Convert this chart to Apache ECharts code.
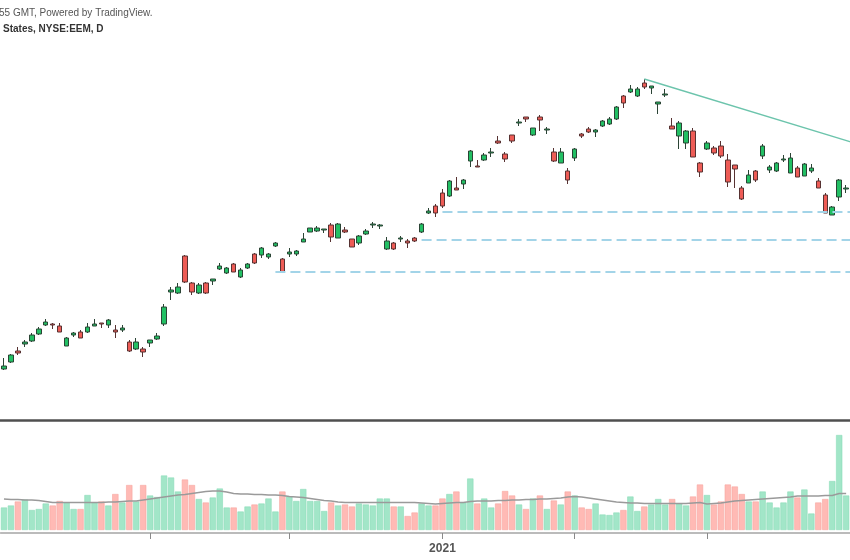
<!DOCTYPE html>
<html>
<head>
<meta charset="utf-8">
<script src="https://cdn.jsdelivr.net/npm/echarts@6/dist/echarts.min.js"></script>
<style>html,body{margin:0;padding:0;background:#fff;overflow:hidden;width:850px;height:560px;}#c{width:857px;height:560px;}</style>
</head>
<body>
<div id="c"></div>
<script>
// Trading days (NYSE:EEM, daily), last entry is the next session (no data yet)
const tradingDates = ("2020-10-02 2020-10-05 2020-10-06 2020-10-07 2020-10-08 2020-10-09 2020-10-12 2020-10-13 2020-10-14 2020-10-15 2020-10-16 2020-10-19 2020-10-20 2020-10-21 2020-10-22 2020-10-23 2020-10-26 2020-10-27 2020-10-28 2020-10-29 2020-10-30 " +
  "2020-11-02 2020-11-03 2020-11-04 2020-11-05 2020-11-06 2020-11-09 2020-11-10 2020-11-11 2020-11-12 2020-11-13 2020-11-16 2020-11-17 2020-11-18 2020-11-19 2020-11-20 2020-11-23 2020-11-24 2020-11-25 2020-11-27 2020-11-30 " +
  "2020-12-01 2020-12-02 2020-12-03 2020-12-04 2020-12-07 2020-12-08 2020-12-09 2020-12-10 2020-12-11 2020-12-14 2020-12-15 2020-12-16 2020-12-17 2020-12-18 2020-12-21 2020-12-22 2020-12-23 2020-12-24 2020-12-28 2020-12-29 2020-12-30 2020-12-31 " +
  "2021-01-04 2021-01-05 2021-01-06 2021-01-07 2021-01-08 2021-01-11 2021-01-12 2021-01-13 2021-01-14 2021-01-15 2021-01-19 2021-01-20 2021-01-21 2021-01-22 2021-01-25 2021-01-26 2021-01-27 2021-01-28 2021-01-29 " +
  "2021-02-01 2021-02-02 2021-02-03 2021-02-04 2021-02-05 2021-02-08 2021-02-09 2021-02-10 2021-02-11 2021-02-12 2021-02-16 2021-02-17 2021-02-18 2021-02-19 2021-02-22 2021-02-23 2021-02-24 2021-02-25 2021-02-26 " +
  "2021-03-01 2021-03-02 2021-03-03 2021-03-04 2021-03-05 2021-03-08 2021-03-09 2021-03-10 2021-03-11 2021-03-12 2021-03-15 2021-03-16 2021-03-17 2021-03-18 2021-03-19 2021-03-22 2021-03-23 2021-03-24 2021-03-25 2021-03-26 2021-03-29 2021-03-30").split(' ');

const openPrices = [43.55,43.90,44.45,44.80,44.95,45.30,45.75,45.80,45.70,44.70,
  45.25,45.40,45.40,45.70,45.85,45.75,45.50,45.50,44.90,44.55,
  44.55,44.85,45.05,45.80,47.40,47.35,49.20,47.85,47.35,47.85,
  47.95,48.55,48.35,48.80,48.15,48.60,49.30,49.25,49.15,49.70,
  49.05,49.30,49.30,49.90,50.40,50.45,50.50,50.75,50.10,50.50,
  50.05,49.85,50.30,50.75,50.70,49.55,49.85,50.05,49.95,50.10,
  50.40,51.35,51.70,52.35,52.20,52.60,52.80,53.95,53.70,54.00,
  54.35,54.95,54.30,55.25,55.85,56.15,55.25,56.15,55.50,54.40,
  53.85,53.45,54.10,55.30,55.55,55.40,55.70,55.80,56.05,57.20,
  57.40,57.20,57.85,57.60,56.80,57.25,55.70,55.20,54.85,55.45,
  53.85,54.55,54.60,54.70,54.00,53.75,52.60,52.85,53.45,54.20,
  53.50,53.45,54.00,53.35,53.60,53.20,53.45,52.95,52.25,51.25,
  52.15,52.55];
const closePrices = [43.70,44.25,44.35,44.90,45.25,45.55,45.90,45.75,45.40,45.10,
  45.35,45.10,45.65,45.80,45.80,46.00,45.40,45.60,44.45,44.90,
  44.40,45.00,45.20,46.65,47.50,47.65,47.90,47.40,47.75,47.35,
  48.05,48.70,48.60,48.40,48.50,48.80,48.85,49.60,49.30,49.85,
  48.40,49.40,49.45,50.05,50.60,50.60,50.55,50.15,50.80,50.40,
  49.65,50.20,50.45,50.80,50.75,49.95,49.55,50.10,49.85,49.95,
  50.80,51.45,51.35,51.70,52.95,52.50,53.00,54.45,53.65,54.25,
  54.40,54.85,54.05,54.95,55.90,56.05,55.60,56.00,55.55,53.95,
  54.40,53.00,54.55,55.20,55.40,55.50,55.95,56.05,56.65,56.85,
  57.55,57.55,57.65,57.70,56.90,57.30,55.55,55.85,55.45,54.15,
  53.40,54.85,54.35,54.20,52.90,53.55,52.05,53.25,53.00,54.70,
  53.65,53.85,54.05,54.10,53.15,53.80,53.60,52.60,51.35,51.65,
  53.00,52.60];
const lowPrices = [43.50,43.85,44.25,44.65,44.90,45.25,45.70,45.55,45.40,44.70,
  45.15,45.10,45.35,45.70,45.60,45.60,45.10,45.40,44.40,44.50,
  44.15,44.65,45.00,45.70,47.00,47.30,47.85,47.25,47.30,47.30,
  47.75,48.50,48.30,48.40,48.10,48.55,48.80,49.10,49.05,49.65,
  48.40,49.15,49.20,49.90,50.40,50.40,50.35,49.90,50.10,50.35,
  49.65,49.75,50.25,50.60,50.55,49.50,49.50,49.90,49.60,49.90,
  50.35,51.30,51.15,51.60,52.15,52.50,52.55,53.65,53.65,53.95,
  54.15,54.80,53.90,54.85,55.70,55.90,55.20,55.45,55.30,53.90,
  53.85,52.80,53.95,55.10,55.35,55.15,55.65,55.75,56.00,56.60,
  57.35,57.15,57.55,57.30,56.30,57.15,55.55,54.55,54.55,54.15,
  53.15,54.50,54.25,54.10,52.65,52.60,52.00,52.85,52.90,54.05,
  53.35,53.40,53.90,53.35,53.15,53.20,53.35,52.60,51.35,51.25,
  51.95,52.35];
const highPrices = [44.10,44.30,44.65,45.00,45.35,45.65,46.05,45.85,45.85,45.15,
  45.40,45.50,45.85,46.05,45.85,46.05,45.75,45.75,45.00,45.10,
  44.65,45.00,45.35,46.80,47.65,47.85,49.25,47.90,47.85,47.90,
  48.05,48.85,48.65,48.85,48.60,48.85,49.35,49.65,49.35,49.90,
  49.10,49.60,49.50,50.35,50.60,50.70,50.55,50.85,50.85,50.65,
  50.05,50.25,50.55,50.90,50.80,50.15,49.90,50.20,50.05,50.15,
  50.85,51.60,51.80,52.55,53.00,53.15,53.05,54.50,54.00,54.35,
  54.60,55.20,54.40,55.25,56.05,56.15,55.60,56.25,55.65,54.60,
  54.60,53.60,54.60,55.35,55.65,55.55,56.00,56.15,56.70,57.25,
  57.75,57.65,58.05,57.70,56.90,57.55,56.10,55.95,55.50,55.60,
  53.90,54.95,54.70,54.95,54.30,53.75,52.70,53.50,53.50,54.80,
  53.75,53.90,54.25,54.35,53.70,53.85,53.80,53.10,52.35,51.70,
  53.05,52.75];

// Volume, millions of shares
const volumes = [45,49,57,61,40,42,53,49,58,55,
  42,42,70,55,57,49,72,55,90,57,
  90,69,66,109,105,77,101,90,62,55,
  65,83,45,45,37,47,51,53,63,37,
  77,67,58,82,58,58,38,55,49,51,
  47,53,51,49,63,63,47,47,28,35,
  53,49,49,63,72,77,55,103,53,63,
  45,53,78,69,51,42,63,69,42,59,
  51,77,69,45,42,53,31,30,35,40,
  67,38,47,51,62,51,62,53,49,67,
  91,70,51,57,91,87,72,57,57,77,
  55,45,55,77,65,81,33,55,62,98,
  190,69];
// Volume moving average (as drawn)
const volumeMA = [62,61,61,60,60,59,57,55,55,55,
  55,55,55,55,55,56,56,57,58,58,
  60,62,64,66,68,70,71,73,75,77,
  78,78,76,73,72,72,71,71,70,70,
  69,67,66,65,63,61,59,58,56,55,
  55,55,55,55,55,55,55,55,55,55,
  54,53,52,53,54,55,55,57,58,58,
  58,59,59,60,60,61,61,62,62,63,
  64,66,67,66,64,62,60,58,56,55,
  54,54,53,53,53,53,53,53,53,54,
  55,52,53,54,56,58,59,60,61,62,
  63,64,65,66,68,68,68,68,69,69,
  73,73];

// Drawn levels
const trendLine = [[92, 58.05], [122, 54.87]];
const supportLevels = [{ start: 63, price: 51.43 }, { start: 60, price: 50.00 }, { start: 39, price: 48.43 }];

const upColor = '#22c064', downColor = '#ee5c56';
const volUp = '#a2e6c8', volDown = '#ffbab5';
const font = '"Liberation Sans", Arial, sans-serif';

const candleData = openPrices.map((o, i) => [o, closePrices[i], lowPrices[i], highPrices[i]]);
const volData = volumes.map((v, i) => {
  const up = closePrices[i] >= openPrices[i];
  return { value: v, itemStyle: { color: up ? volUp : volDown, borderColor: up ? '#8cdcb9' : '#f7a6a0', borderWidth: 0.6 } };
});
const monthStarts = new Set();
tradingDates.forEach((d, i) => { if (i > 0 && d.slice(5, 7) !== tradingDates[i - 1].slice(5, 7) && i < closePrices.length) monthStarts.add(i); });

const markData = [
  [{ coord: trendLine[0], lineStyle: { color: '#6cc4ac', width: 1.4, type: 'solid' } }, { coord: trendLine[1] }]
].concat(supportLevels.map(s => [
  { coord: [s.start, s.price], lineStyle: { color: '#a3d4e8', width: 2, type: [10, 5] } },
  { coord: [tradingDates.length - 1, s.price] }
]));

const gridLeft = 0.5, gridWidth = 6.96 * tradingDates.length;

const chart = echarts.init(document.getElementById('c'));
chart.setOption({
  animation: false,
  backgroundColor: '#ffffff',
  graphic: [
    { type: 'text', left: -1, top: 8, style: { text: '55 GMT, Powered by TradingView.', font: '10px ' + font, fill: '#555' } },
    { type: 'text', left: 3, top: 24, style: { text: 'States, NYSE:EEM, D', font: 'bold 10px ' + font, fill: '#333' } }
  ],
  grid: [
    { left: gridLeft, width: gridWidth, top: 0, height: 420 },
    { left: gridLeft, width: gridWidth, top: 422, height: 108 }
  ],
  xAxis: [
    { type: 'category', gridIndex: 0, data: tradingDates, boundaryGap: true,
      axisLine: { show: true, onZero: false, lineStyle: { color: '#4f4f4f', width: 2.5 } },
      axisTick: { show: false }, axisLabel: { show: false }, splitLine: { show: false } },
    { type: 'category', gridIndex: 1, data: tradingDates, boundaryGap: true, offset: 3,
      axisLine: { show: true, onZero: false, lineStyle: { color: '#a5a5a5', width: 1.5 } },
      axisTick: { show: true, alignWithLabel: true, interval: (i) => monthStarts.has(i), length: 6, lineStyle: { color: '#8a8a8a' } },
      axisLabel: { show: true, interval: (i) => monthStarts.has(i), margin: 10,
        formatter: (v) => (v.slice(5, 7) === '01' ? v.slice(0, 4) : ''),
        color: '#555', fontWeight: 'bold', fontSize: 12, fontFamily: font },
      splitLine: { show: false } }
  ],
  yAxis: [
    { type: 'value', gridIndex: 0, min: 41, max: 62, show: false, splitLine: { show: false } },
    { type: 'value', gridIndex: 1, min: 0, max: 216, show: false, splitLine: { show: false } }
  ],
  series: [
    { type: 'bar', xAxisIndex: 1, yAxisIndex: 1, data: volData, barCategoryGap: '10%', z: 1 },
    { type: 'line', xAxisIndex: 1, yAxisIndex: 1, data: volumeMA, showSymbol: false, symbol: 'none',
      lineStyle: { color: '#9a9a9a', width: 1.5 }, z: 3 },
    { type: 'candlestick', xAxisIndex: 0, yAxisIndex: 0, data: candleData, barWidth: 5,
      itemStyle: { color: upColor, color0: downColor, borderColor: '#2b4435', borderColor0: '#573232', borderWidth: 1 },
      markLine: { symbol: ['none', 'none'], silent: true, animation: false, label: { show: false },
        emphasis: { disabled: true }, data: markData } }
  ]
});
</script>
</body>
</html>
